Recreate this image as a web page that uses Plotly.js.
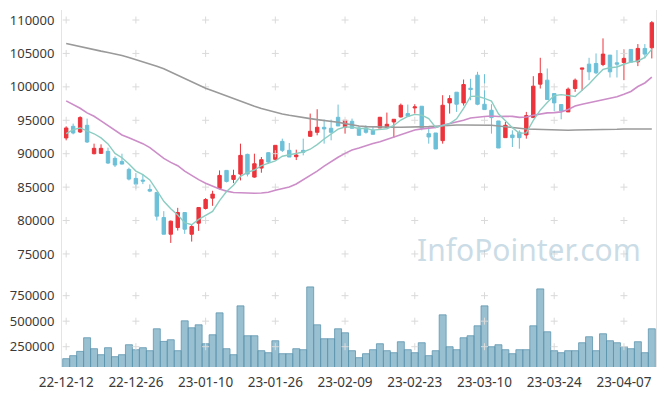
<!DOCTYPE html>
<html><head><meta charset="utf-8">
<script src="https://cdn.plot.ly/plotly-3.0.1.min.js"></script>
<style>html,body{margin:0;padding:0;background:#fff}#chart{width:665px;height:396px}</style>
</head><body><div id="chart"></div>
<script>
const dates = [
 '22-12-12','22-12-13','22-12-14','22-12-15','22-12-16','22-12-19','22-12-20','22-12-21','22-12-22','22-12-23',
 '22-12-26','22-12-27','22-12-28','22-12-29','23-01-02','23-01-03','23-01-04','23-01-05','23-01-06','23-01-09',
 '23-01-10','23-01-11','23-01-12','23-01-13','23-01-16','23-01-17','23-01-18','23-01-19','23-01-20','23-01-25',
 '23-01-26','23-01-27','23-01-30','23-01-31','23-02-01','23-02-02','23-02-03','23-02-06','23-02-07','23-02-08',
 '23-02-09','23-02-10','23-02-13','23-02-14','23-02-15','23-02-16','23-02-17','23-02-20','23-02-21','23-02-22',
 '23-02-23','23-02-24','23-02-27','23-02-28','23-03-02','23-03-03','23-03-06','23-03-07','23-03-08','23-03-09',
 '23-03-10','23-03-13','23-03-14','23-03-15','23-03-16','23-03-17','23-03-20','23-03-21','23-03-22','23-03-23',
 '23-03-24','23-03-27','23-03-28','23-03-29','23-03-30','23-03-31','23-04-03','23-04-04','23-04-05','23-04-06',
 '23-04-07','23-04-10','23-04-11','23-04-12','23-04-13'];
const open = [92350,94100,93250,94250,90000,90050,90350,89300,88850,87650,
 86300,86050,84650,84200,80450,77950,78950,81200,77950,79600,
 81800,83350,84800,87500,86150,86950,89900,86500,87850,90150,
 89150,91850,90500,89550,90500,92600,93200,93950,93800,95450,
 93950,94850,93850,93850,93500,93850,93950,94750,95500,96000,
 96850,97100,93000,93100,91950,97600,99200,97600,99800,101750,
 97400,96500,94900,92400,92800,93200,92800,95400,100400,101000,
 99000,97350,96250,99750,102650,103400,103500,103350,104750,103600,
 103650,105600,103750,105750,105850];
const high = [94100,94500,95600,95250,91500,91400,90900,89600,90000,87900,
 87100,86900,85400,84200,81400,80000,81900,81200,79400,81950,
 83350,84450,87500,87500,87600,91500,90000,90000,89500,90250,
 91250,92250,91600,90600,92250,96000,96650,95100,95100,97350,
 95000,95250,94150,94250,94000,95500,96150,95150,97500,97350,
 97400,97100,94000,93100,98750,98750,99200,101100,101200,102250,
 101900,97400,94900,94750,93500,93500,96250,101600,104350,102750,
 99000,97350,99900,101250,102800,104350,105000,107250,104750,105500,
 105600,105600,106400,106400,109850];
const low = [92000,92900,93100,91600,89900,89950,88450,88000,88400,86000,
 84750,85450,84250,80000,77950,76650,78500,78000,76850,78450,
 81650,82200,84650,85700,85600,86000,86600,86400,87150,88500,
 89100,90250,89500,89050,89750,92500,92750,91500,92000,94150,
 93000,93800,92750,93000,92900,93850,93950,92400,95400,95600,
 96000,93500,91500,90700,91500,96000,96250,97200,98000,97250,
 96600,93000,90850,92400,91000,90750,92250,95400,99750,98100,
 96350,95150,96250,99250,99400,101000,101900,103100,101400,101400,
 101000,103700,103100,104250,104250];
const close = [93850,93100,95400,91750,90800,90800,88600,88300,88450,86200,
 85450,85900,84400,80650,77950,79900,81200,78700,79100,81950,
 83150,83950,86750,85850,86750,89750,86950,88500,89100,88750,
 91250,90500,89500,89800,90200,93350,93950,93700,93200,94150,
 95000,93800,92750,93200,92900,95450,94400,95150,97250,95600,
 97000,93850,92500,90700,97250,98250,97400,100350,99600,97400,
 96600,95400,90850,94250,92400,92400,95700,100100,102000,98100,
 97600,96400,99650,101000,102800,102250,102100,104900,102250,103400,
 104250,103700,105750,104900,109600];
const volume = [132500,162000,204000,337600,230200,171600,240000,152100,171600,269200,
 220400,240000,210700,425500,301800,318100,210700,503600,435300,464600,
 279000,366900,581700,230200,171600,650100,357200,357200,210700,191100,
 308300,181400,181400,230200,220400,835600,464600,327900,327900,425500,
 386400,210700,142300,181400,220400,279000,210700,191100,298600,220400,
 191100,288800,162000,210700,562200,249700,220400,337600,357200,454800,
 650100,249700,269200,220400,181400,220400,220400,454800,816100,396200,
 210700,191100,210700,210700,288800,347400,210700,376700,308300,288800,
 249700,230200,298600,191100,425500];
const ma5 = [93000,93600,93850,93400,92980,92370,91470,90050,89390,88470,
 87400,86860,86080,84520,82870,81760,80820,79680,79370,80170,
 80820,81370,82980,84330,85290,86610,87210,87560,88210,88610,
 88910,89620,89820,89960,90250,90670,91360,92200,92880,93670,
 94000,93970,93780,93780,93530,93620,93740,94220,95030,95570,
 95880,95770,95240,93930,94260,94510,95220,96790,98570,98600,
 98270,97870,95970,94900,93900,93060,93120,94970,96520,97660,
 98700,98840,98750,98550,99490,100420,101560,102610,102860,102980,
 103380,103700,103870,104400,105640];
const ma20 = [97900,97400,96800,96100,95600,94900,94200,93400,92800,92400,
 92000,91500,90900,90100,89300,88700,88200,87400,86700,86120,
 85590,85130,84700,84400,84200,84150,84070,84080,84110,84240,
 84530,84760,85010,85470,86080,86750,87390,88140,88850,89460,
 90050,90540,90840,91210,91520,91800,92170,92510,92910,93260,
 93540,93710,93860,93910,94260,94500,94680,95010,95330,95490,
 95570,95650,95560,95610,95580,95430,95500,95740,95980,96110,
 96140,96260,96620,97140,97410,97610,97850,98080,98210,98510,
 98890,99310,100050,100580,101440];
const ma120 = [106500,106250,106000,105750,105550,105350,105150,104950,104700,104400,
 104100,103750,103400,103100,102700,102200,101750,101250,100700,100250,
 99800,99400,99000,98600,98250,97900,97500,97100,96750,96450,
 96150,95950,95750,95550,95400,95250,95100,95000,94900,94700,
 94500,94300,94150,94050,94000,93950,93950,93950,93950,93950,
 93950,94000,94050,94100,94200,94250,94300,94300,94300,94300,
 94250,94250,94150,94000,93900,93800,93700,93650,93600,93550,
 93500,93500,93500,93550,93550,93600,93600,93650,93650,93650,
 93700,93700,93700,93700,93700];
const xTickLabels = ['22-12-12','22-12-26','23-01-10','23-01-26','23-02-09','23-02-23','23-03-10','23-03-24','23-04-07'];
const priceTicks = [75000,80000,85000,90000,95000,100000,105000,110000];
const volumeTicks = [250000,500000,750000];

const RED = '#ec343c', BLUE = '#6cc0d8';
const gx = [], gy = [], vx = [], vy = [];
xTickLabels.forEach(d => { priceTicks.forEach(p => { gx.push(d); gy.push(p); }); volumeTicks.forEach(v => { vx.push(d); vy.push(v); }); });
const cross = {symbol: 'cross-thin', size: 5, line: {width: 1, color: '#dadada'}, color: '#dadada'};

const traces = [
  {type: 'scatter', mode: 'markers', x: gx, y: gy, marker: cross, hoverinfo: 'skip', showlegend: false, xaxis: 'x', yaxis: 'y'},
  {type: 'scatter', mode: 'markers', x: vx, y: vy, marker: cross, hoverinfo: 'skip', showlegend: false, xaxis: 'x', yaxis: 'y2'},
  {type: 'bar', x: dates, y: volume, xaxis: 'x', yaxis: 'y2', marker: {color: 'rgba(110,165,190,0.7)', line: {color: 'rgba(90,145,172,0.75)', width: 1}}, showlegend: false},
  {type: 'scatter', mode: 'lines', x: dates, y: ma120, line: {color: '#9a9a9a', width: 1.6}, showlegend: false, xaxis: 'x', yaxis: 'y'},
  {type: 'scatter', mode: 'lines', x: dates, y: ma20, line: {color: '#cc8dc8', width: 1.6}, showlegend: false, xaxis: 'x', yaxis: 'y'},
  {type: 'candlestick', x: dates, open: open, high: high, low: low, close: close, xaxis: 'x', yaxis: 'y',
   increasing: {line: {color: RED, width: 1}, fillcolor: RED},
   decreasing: {line: {color: BLUE, width: 1}, fillcolor: BLUE},
   whiskerwidth: 0, showlegend: false},
  {type: 'scatter', mode: 'lines', x: dates, y: ma5, line: {color: '#8ccdc2', width: 1.4}, showlegend: false, xaxis: 'x', yaxis: 'y'}
];

const tickFont = {family: 'Noto Sans, DejaVu Sans, sans-serif', size: 13, color: '#3a3a3a'};
const layout = {
  width: 665, height: 396,
  margin: {l: 62, r: 9, t: 10, b: 29},
  paper_bgcolor: '#fff', plot_bgcolor: '#fff',
  showlegend: false, bargap: 0,
  xaxis: {type: 'category', categoryorder: 'array', categoryarray: dates, anchor: 'y2', tickmode: 'array', tickvals: xTickLabels, ticktext: xTickLabels,
    showgrid: false, zeroline: false, rangeslider: {visible: false}, tickfont: {family: 'Noto Sans, DejaVu Sans, sans-serif', size: 13.5, color: '#3a3a3a'},
    showline: false, ticks: 'outside', ticklen: 3, tickcolor: 'rgba(0,0,0,0)',
    range: [-0.6, dates.length - 0.4]},
  yaxis: {domain: [0.2493, 1], range: [71400, 111500], tickvals: priceTicks, ticktext: priceTicks.map(String),
    showgrid: false, zeroline: false, tickfont: tickFont, showline: true, mirror: true, linecolor: '#e4e4e4', linewidth: 1,
    ticks: 'outside', ticklen: 4, tickcolor: 'rgba(0,0,0,0)'},
  yaxis2: {domain: [0, 0.2493], range: [51000, 923000], tickvals: volumeTicks, ticktext: volumeTicks.map(String),
    showgrid: false, zeroline: false, tickfont: tickFont, showline: true, mirror: true, linecolor: '#e4e4e4', linewidth: 1,
    ticks: 'outside', ticklen: 4, tickcolor: 'rgba(0,0,0,0)'},
  annotations: [{text: 'InfoPointer.com', xref: 'paper', yref: 'paper', x: 0.786, y: 0.328, xanchor: 'center', yanchor: 'middle',
    showarrow: false, font: {family: 'Noto Sans, DejaVu Sans, sans-serif', size: 30, color: 'rgba(150,185,205,0.5)'}}]
};
Plotly.newPlot('chart', traces, layout, {staticPlot: true, displayModeBar: false});
</script>
</body></html>
